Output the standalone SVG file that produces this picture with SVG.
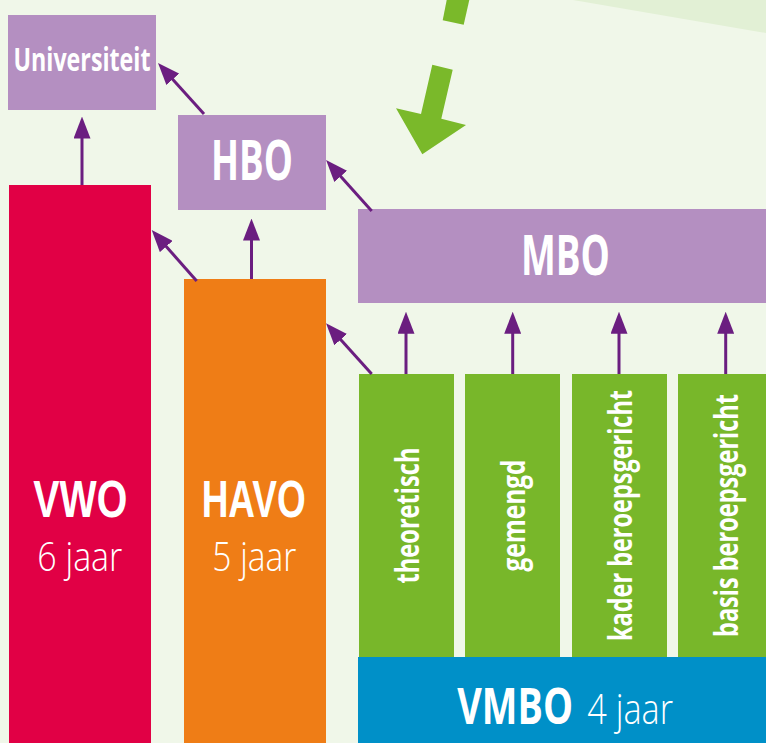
<svg xmlns="http://www.w3.org/2000/svg" width="766" height="743" viewBox="0 0 766 743">
<style>
.bg{fill:#f0f7e9}
.purple{fill:#b48fc1}
.green{fill:#78b72a}
.t{font-family:"Open Sans","Liberation Sans",sans-serif;fill:#ffffff;font-weight:700}
.h{font-family:"Liberation Sans",Arial,sans-serif;fill:#ffffff;font-weight:700}
.l{font-family:"Open Sans","Liberation Sans",sans-serif;fill:#ffffff;font-weight:300}
.v{font-family:"Open Sans","Liberation Sans",sans-serif;fill:#ffffff;font-weight:700;font-size:33px;text-anchor:middle}
.c{stroke:#6b1e80;stroke-width:3;fill:none;marker-end:url(#ah)}
</style>
<defs>
<marker id="ah" markerUnits="userSpaceOnUse" markerWidth="22" markerHeight="17" refX="12" refY="8.5" orient="auto" viewBox="0 0 22 17">
<path d="M0,0 L22,8.5 L0,17 z" fill="#6b1e80"/>
</marker>
</defs>
<rect class="bg" x="0" y="0" width="766" height="743"/>
<polygon points="573,0 766,33 766,0" fill="#e2f0d5"/>
<g id="big-arrow" fill="#7ab92a">
<polygon points="446.7,0 469.3,0 463.7,24.7 442.7,20.3"/>
<polygon points="432.3,64.7 452.7,69.7 441.3,118.7 466,125 422.3,154.3 396,108.3 421,114"/>
</g>
<g id="universiteit">
<rect class="purple" x="8" y="15" width="148" height="95"/>
<text class="t" x="13.5" y="71" font-size="33" textLength="137" lengthAdjust="spacingAndGlyphs">Universiteit</text>
</g>
<g id="hbo">
<rect class="purple" x="178" y="115" width="148" height="95"/>
<text class="t" x="211" y="180" font-size="56" textLength="82" lengthAdjust="spacingAndGlyphs">HBO</text>
</g>
<g id="mbo">
<rect class="purple" x="358" y="209" width="410" height="94"/>
<text class="t" x="521" y="274.5" font-size="55" textLength="89" lengthAdjust="spacingAndGlyphs">MBO</text>
</g>
<g id="vwo">
<rect x="9" y="185" width="142" height="560" fill="#e10045"/>
<text class="h" x="33.3" y="516.5" font-size="51.5" textLength="94" lengthAdjust="spacingAndGlyphs">VWO</text>
<text class="l" x="37.3" y="570.5" font-size="40" textLength="85" lengthAdjust="spacingAndGlyphs">6 jaar</text>
</g>
<g id="havo">
<rect x="184" y="279" width="142" height="466" fill="#ef7d16"/>
<text class="h" x="201.7" y="516.5" font-size="51.5" textLength="104" lengthAdjust="spacingAndGlyphs">HAVO</text>
<text class="l" x="212.3" y="570.5" font-size="40" textLength="84" lengthAdjust="spacingAndGlyphs">5 jaar</text>
</g>
<g id="theoretisch">
<rect class="green" x="359" y="374" width="95" height="283"/>
<text class="v" transform="translate(406.5,515.5) rotate(-90)" x="0" y="12.5" textLength="136" lengthAdjust="spacingAndGlyphs">theoretisch</text>
</g>
<g id="gemengd">
<rect class="green" x="465" y="374" width="95" height="283"/>
<text class="v" transform="translate(512.5,515.5) rotate(-90)" x="0" y="12.5" textLength="112" lengthAdjust="spacingAndGlyphs">gemengd</text>
</g>
<g id="kader">
<rect class="green" x="572" y="374" width="95" height="283"/>
<text class="v" transform="translate(619.5,515.5) rotate(-90)" x="0" y="12.5" textLength="251" lengthAdjust="spacingAndGlyphs">kader beroepsgericht</text>
</g>
<g id="basis">
<rect class="green" x="678" y="374" width="95" height="283"/>
<text class="v" transform="translate(725.5,515.5) rotate(-90)" x="0" y="12.5" textLength="243" lengthAdjust="spacingAndGlyphs">basis beroepsgericht</text>
</g>
<g id="vmbo">
<rect x="358" y="657" width="410" height="88" fill="#0090c8"/>
<text class="t" font-size="50" transform="translate(457.3,723.5) scale(0.8,1)" x="0" y="0" textLength="144.6" lengthAdjust="spacingAndGlyphs">VMBO</text>
<text class="l" font-size="42" transform="translate(587.3,723.5) scale(0.8,1)" x="0" y="0" textLength="107.1" lengthAdjust="spacingAndGlyphs">4 jaar</text>
</g>
<g id="connectors">
<line class="c" x1="82" y1="185" x2="82" y2="126.5"/>
<line class="c" x1="204" y1="114" x2="164.7" y2="70.4"/>
<line class="c" x1="251.5" y1="279" x2="251.5" y2="228.5"/>
<line class="c" x1="196.7" y1="281" x2="158.3" y2="237.5"/>
<line class="c" x1="371.7" y1="211" x2="332.7" y2="167.4"/>
<line class="c" x1="371.7" y1="374" x2="332.7" y2="330.7"/>
<line class="c" x1="406" y1="374" x2="406" y2="321.7"/>
<line class="c" x1="512.7" y1="374" x2="512.7" y2="321.7"/>
<line class="c" x1="619" y1="374" x2="619" y2="321.7"/>
<line class="c" x1="725.7" y1="374" x2="725.7" y2="321.7"/>
</g>
</svg>
